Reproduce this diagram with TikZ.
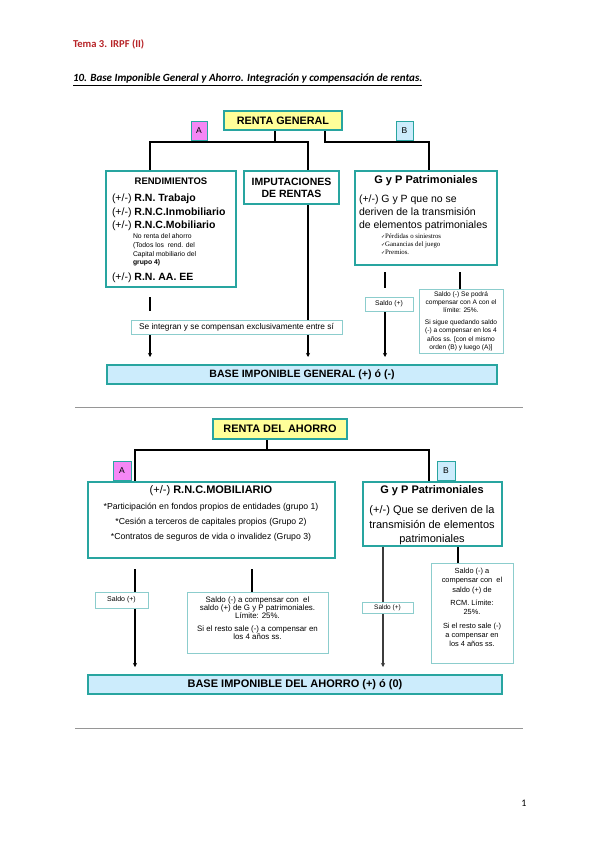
\documentclass[tikz,border=0pt]{standalone}
\usepackage{fontspec}
\setmainfont{Liberation Sans}
\newfontfamily\calibrifont{Carlito}
\newfontfamily\serifsmall{Liberation Serif}
\newfontfamily\dejavufont{DejaVu Sans}
\usetikzlibrary{arrows.meta}
\pgfdeclarelayer{bg}
\pgfsetlayers{bg,main}
\definecolor{tealb}{RGB}{40,165,160}
\definecolor{tealthin}{RGB}{140,205,205}
\definecolor{yellowf}{RGB}{255,255,153}
\definecolor{magf}{RGB}{245,135,245}
\definecolor{bluef}{RGB}{204,236,252}
\definecolor{hdrred}{RGB}{183,36,40}
\definecolor{sepgray}{RGB}{150,150,150}
\definecolor{darkline}{RGB}{60,60,60}
\newcommand\fsz[2]{\fontsize{#1}{#2}\selectfont}
\newcommand\chk{{\dejavufont\fontsize{5}{6}\selectfont ✓}}
\begin{document}
\begin{tikzpicture}[x=1pt,y=-1pt,
  box/.style={draw=tealb, line width=1.5pt, fill=white, inner sep=0pt, outer sep=0pt, align=center},
  tag/.style={draw=tealb, line width=1pt, inner sep=0pt, outer sep=0pt, font=\fsz{8.5}{10}},
  thin/.style={draw=tealthin, line width=0.8pt, fill=white, inner sep=0pt, outer sep=0pt, align=center},
  lbl/.style={inner sep=0pt, outer sep=0pt},
  conn/.style={line width=1.2pt, black},
  arr/.style={conn, -{Stealth[length=4pt,width=4pt]}},
  sep/.style={line width=1pt, sepgray}]
\useasboundingbox (0,0) rectangle (600,848);

% header
\node[lbl, anchor=west, text=hdrred, font=\calibrifont\bfseries\fsz{10.6}{12}] (hdr) at (73,44) {Tema 3. IRPF (II)};
\node[lbl, anchor=west, font=\calibrifont\bfseries\itshape\fsz{11}{13}] (ttl) at (73,80) {\underline{10. Base Imponible General y Ahorro. Integración y compensación de rentas.}};

% ===== diagram 1 =====
\node[box, fill=yellowf, minimum width=118, minimum height=19, font=\bfseries\fsz{10.8}{12}] (rg) at (283,120.5) {RENTA GENERAL};
\node[tag, fill=magf, minimum width=16, minimum height=18] (A1) at (199,131) {A};
\node[tag, fill=bluef, minimum width=17, minimum height=18] (B1) at (404.5,131) {B};

\node[box, minimum width=130, minimum height=116] (rend) at (171,229) {};
\node[lbl, font=\bfseries\fsz{9.5}{11}] (rendT) at (171,181) {RENDIMIENTOS};
\node[lbl, anchor=west, align=left, font=\fsz{10.5}{13.5}] (rendL) at (112,212.5) {(+/-) \textbf{R.N. Trabajo}\\(+/-) \textbf{R.N.C.Inmobiliario}\\(+/-) \textbf{R.N.C.Mobiliario}};
\node[lbl, anchor=west, align=left, font=\fsz{6.8}{8.6}] (rendS) at (133,250) {No renta del ahorro\\(Todos los\ \ rend. del\\Capital mobiliario del\\\textbf{grupo 4)}};
\node[lbl, anchor=west, font=\fsz{10.5}{13}] (rendE) at (112,278) {(+/-) \textbf{R.N. AA. EE}};

\node[box, minimum width=95, minimum height=33, font=\bfseries\fsz{10.5}{12}] (imp) at (291.5,187.5) {IMPUTACIONES\\DE RENTAS};

\node[box, minimum width=142, minimum height=94] (gyp1) at (426,218) {};
\node[lbl, font=\bfseries\fsz{11}{13}] (gyp1T) at (426,181) {G y P Patrimoniales};
\node[lbl, anchor=west, align=left, font=\fsz{10.5}{13}] (gyp1L) at (359,213) {(+/-) G y P que no se\\deriven de la transmisión\\de elementos patrimoniales};
\node[lbl, anchor=west, align=left, font=\serifsmall\fsz{6.8}{8}] (gyp1S) at (381,244) {\chk Pérdidas o siniestros\\\chk Ganancias del juego\\\chk Premios.};

\node[thin, minimum width=211, minimum height=14, font=\fsz{8.3}{10}] (integ) at (236.5,327) {Se integran y se compensan exclusivamente entre sí};
\node[thin, minimum width=48, minimum height=14, font=\fsz{6.8}{8}] (saldo1) at (389,304) {Saldo (+)};
\node[thin, minimum width=84, minimum height=64, font=\fsz{6.6}{8.3}] (nota1) at (461,321) {Saldo (-) Se podrá\\compensar con A con el\\límite: 25\%.\\[3.5pt]Si sigue quedando saldo\\(-) a compensar en los 4\\años ss. [con el mismo\\orden (B) y luego (A)]};

\node[box, fill=bluef, minimum width=390, minimum height=19, font=\bfseries\fsz{10.6}{12}] (base1) at (302,374.5) {BASE IMPONIBLE GENERAL (+) ó (-)};

\coordinate (j1) at (275,142);
\coordinate (jL) at (150,142);
\coordinate (jM) at (308,142);
\coordinate (j2) at (325,142);
\coordinate (jR) at (429,142);
\coordinate (s1a) at (150,297);
\coordinate (s1b) at (150,311);
\coordinate (t1) at (150,357);
\coordinate (t2) at (308,357);
\coordinate (s2a) at (385,272);
\coordinate (s2b) at (385,288);
\coordinate (t3) at (385,357);
\coordinate (s3a) at (460,272);

% ===== separators =====
\coordinate (sepL1) at (75,407);
\coordinate (sepR1) at (523,407);
\coordinate (sepL2) at (75,728);
\coordinate (sepR2) at (523,728);

% ===== diagram 2 =====
\node[box, fill=yellowf, minimum width=134, minimum height=20, font=\bfseries\fsz{10.9}{12}] (ra) at (280,429) {RENTA DEL AHORRO};
\node[tag, fill=magf, minimum width=18, minimum height=19] (A2) at (122,470.5) {A};
\node[tag, fill=bluef, minimum width=18, minimum height=19] (B2) at (446,470.5) {B};

\node[box, minimum width=247, minimum height=76] (rnc) at (211.5,520) {};
\node[lbl, font=\fsz{11}{13}] (rncT) at (211,491) {(+/-) \textbf{R.N.C.MOBILIARIO}};
\node[lbl, align=center, font=\fsz{8.7}{15}] (rncL) at (211,522) {*Participación en fondos propios de entidades (grupo 1)\\*Cesión a terceros de capitales propios (Grupo 2)\\*Contratos de seguros de vida o invalidez (Grupo 3)};

\node[box, minimum width=139, minimum height=64] (gyp2) at (432.5,514) {};
\node[lbl, font=\bfseries\fsz{11}{13}] (gyp2T) at (432,491) {G y P Patrimoniales};
\node[lbl, align=center, font=\fsz{11}{14.5}] (gyp2L) at (432,525.5) {(+/-) Que se deriven de la\\transmisión de elementos\\patrimoniales};

\node[thin, minimum width=53, minimum height=16, font=\fsz{7}{8}] (saldo2) at (121.5,600) {Saldo (+)};
\node[thin, minimum width=141, minimum height=61] (nota2L) at (257.5,622.5) {};
\node[lbl, align=center, font=\fsz{7.9}{8.4}] (nota2Lt) at (257.5,618) {Saldo (-) a compensar con\ \ el\\saldo (+) de G y P patrimoniales.\\Límite: 25\%.\\[4pt]Si el resto sale (-) a compensar en\\los 4 años ss.};
\node[thin, minimum width=51, minimum height=11, font=\fsz{6.5}{8}] (saldo3) at (387.5,607.5) {Saldo (+)};
\node[thin, minimum width=82, minimum height=100] (nota2R) at (472,613) {};
\node[lbl, align=center, font=\fsz{7.4}{9.2}] (nota2Rt) at (472,607.5) {Saldo (-) a\\compensar con\ \ el\\saldo (+) de\\[4pt]RCM. Límite:\\25\%.\\[4.5pt]Si el resto sale (-)\\a compensar en\\los 4 años ss.};

\node[box, fill=bluef, minimum width=414, minimum height=19, font=\bfseries\fsz{11}{12}] (base2) at (295,684.5) {BASE IMPONIBLE DEL AHORRO (+) ó (0)};

\coordinate (k1) at (267,450);
\coordinate (kL) at (135,450);
\coordinate (kR) at (429,450);
\coordinate (u1) at (135,569);
\coordinate (t4) at (135,667);
\coordinate (u2) at (252,569);
\coordinate (t5) at (383,667);
\coordinate (u3) at (458,546);

\node[lbl, font=\calibrifont\fsz{10}{12}] (pg) at (524,803) {1};

\begin{pgfonlayer}{bg}
  % diagram 1 connectors
  \draw[conn] (rg.south -| j1) -- (j1);
  \draw[conn] (jL |- rend.north) -- (jL) -- (jM) -- (jM |- imp.north);
  \draw[conn] (rg.south -| j2) -- (j2) -- (jR) -- (jR |- gyp1.north);
  \draw[conn] (s1a) -- (s1b);
  \draw[arr] (integ.south -| t1) -- (t1);
  \draw[arr] (imp.south -| t2) -- (t2);
  \draw[conn] (s2a) -- (s2b);
  \draw[arr] (saldo1.south -| t3) -- (t3);
  \draw[conn] (s3a) -- (s3a |- nota1.north);
  % separators
  \draw[sep] (sepL1) -- (sepR1);
  \draw[sep] (sepL2) -- (sepR2);
  % diagram 2 connectors
  \draw[conn] (ra.south -| k1) -- (k1);
  \draw[conn] (kL |- rnc.north) -- (kL) -- (kR) -- (kR |- gyp2.north);
  \draw[arr, line width=1.5pt] (u1) -- (t4);
  \draw[conn] (u2) -- (u2 |- nota2L.north);
  \draw[arr, line width=1.8pt, darkline] (gyp2.south -| t5) -- (t5);
  \draw[conn] (u3) -- (u3 |- nota2R.north);
\end{pgfonlayer}
\end{tikzpicture}
\end{document}
